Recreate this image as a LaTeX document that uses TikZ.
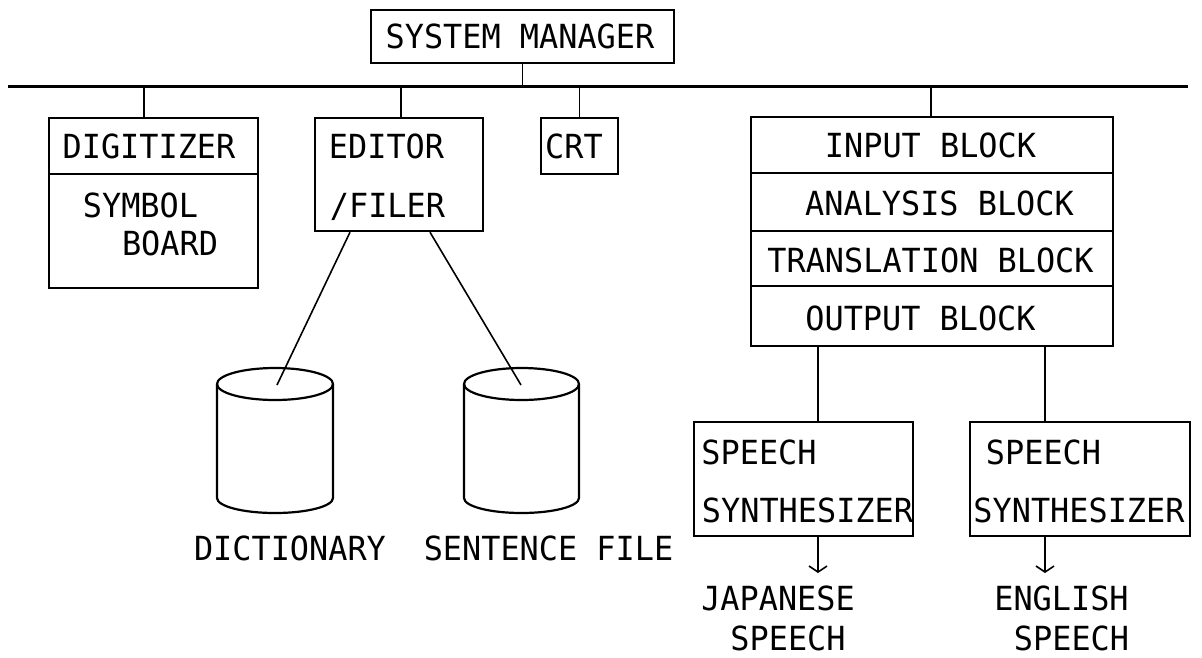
\documentclass[tikz,border=0pt]{standalone}
\usepackage{fontspec}
\newfontfamily\plotfont[FakeStretch=0.96]{DejaVu Sans Mono}
\usetikzlibrary{arrows.meta,calc}
\begin{document}
\begin{tikzpicture}[x=1pt,y=-1pt,
  box/.style={draw, line width=2.2pt, inner sep=0pt, anchor=north west},
  lbl/.style={font=\plotfont\fontsize{33.2}{36}\selectfont, inner sep=0pt, anchor=base},
  wire/.style={line width=1.6pt},
  busline/.style={line width=3pt},
  cyl/.style={line width=2.2pt},
  tip/.style={-{Straight Barb[length=6pt,width=18pt]}}]
\fill[white] (0,0) rectangle (1202,657);
\useasboundingbox (0,0) rectangle (1202,657);

% boxes
\node[box, minimum width=303pt, minimum height=53pt] (sm) at (370,9) {};
\node[box, minimum width=209pt, minimum height=56pt] (dig) at (48,117) {};
\node[box, minimum width=209pt, minimum height=114pt] (sym) at (48,173) {};
\node[box, minimum width=168pt, minimum height=113pt] (editor) at (314,117) {};
\node[box, minimum width=77pt, minimum height=56pt] (crt) at (540,117) {};
\node[box, minimum width=362pt, minimum height=56pt] (inp) at (750,116) {};
\node[box, minimum width=362pt, minimum height=58pt] (ana) at (750,172) {};
\node[box, minimum width=362pt, minimum height=55pt] (tra) at (750,230) {};
\node[box, minimum width=362pt, minimum height=60pt] (out) at (750,285) {};
\node[box, minimum width=219pt, minimum height=114pt] (ss1) at (693,421) {};
\node[box, minimum width=220pt, minimum height=114pt] (ss2) at (969,421) {};

% bus
\coordinate (busL) at (8,86);
\coordinate (busR) at (1188,86);
\draw[busline] (busL) -- (busR);
\draw[wire] (sm.south) -- (sm.south |- busL);
\draw[wire] ([xshift=-9.5pt]dig.north) -- ([xshift=-9.5pt]dig.north |- busL);
\draw[wire] ([xshift=2pt]editor.north) -- ([xshift=2pt]editor.north |- busL);
\draw[wire] (crt.north) -- (crt.north |- busL);
\draw[wire] ([xshift=-1pt]inp.north) -- ([xshift=-1pt]inp.north |- busL);

% cylinders
\draw[cyl] (217,384) -- (217,498) arc[start angle=180,end angle=0,x radius=58,y radius=15] -- (333,384);
\draw[cyl] (275,384) ellipse[x radius=58,y radius=16];
\coordinate (c1) at (277,385);
\draw[cyl] (464,384) -- (464,498) arc[start angle=180,end angle=0,x radius=57.5,y radius=15] -- (579,384);
\draw[cyl] (521.5,384) ellipse[x radius=57.5,y radius=16];
\coordinate (c2) at (521,385);
\draw[wire] ($(editor.south west)+(36,0)$) -- (c1);
\draw[wire] ($(editor.south west)+(116,0)$) -- (c2);

% output to synthesizers
\coordinate (j1) at (818,0);
\coordinate (j2) at (1045,0);
\draw[wire] (out.south -| j1) -- (ss1.north -| j1);
\draw[wire] (out.south -| j2) -- (ss2.north -| j2);
\coordinate (a1) at (818,573);
\coordinate (a2) at (1045,573);
\draw[wire,tip] (ss1.south -| j1) -- (a1);
\draw[wire,tip] (ss2.south -| j2) -- (a2);

% texts
\node[lbl] (tsm) at (520,48) {SYSTEM MANAGER};
\node[lbl] (tdig) at (149,158) {DIGITIZER};
\node[lbl] (tsym) at (140.5,217) {SYMBOL};
\node[lbl] (tboard) at (170,255) {BOARD};
\node[lbl] (ted1) at (386.5,158) {EDITOR};
\node[lbl] (ted2) at (387.5,217) {/FILER};
\node[lbl] (tcrt) at (574,158) {CRT};
\node[lbl] (tinp) at (930.5,157) {INPUT BLOCK};
\node[lbl] (tana) at (939.5,215) {ANALYSIS BLOCK};
\node[lbl] (ttra) at (930.5,272) {TRANSLATION BLOCK};
\node[lbl] (tout) at (920.5,330) {OUTPUT BLOCK};
\node[lbl] (tdict) at (290,560) {DICTIONARY};
\node[lbl] (tsent) at (548.5,560) {SENTENCE FILE};
\node[lbl] (ts1a) at (759,464) {SPEECH};
\node[lbl] (ts1b) at (807.5,522) {SYNTHESIZER};
\node[lbl] (ts2a) at (1043.5,464) {SPEECH};
\node[lbl] (ts2b) at (1079,522) {SYNTHESIZER};
\node[lbl] (tjap) at (778,610) {JAPANESE};
\node[lbl] (tjsp) at (788,650) {SPEECH};
\node[lbl] (teng) at (1061.5,610) {ENGLISH};
\node[lbl] (tesp) at (1071.5,650) {SPEECH};
\end{tikzpicture}
\end{document}
